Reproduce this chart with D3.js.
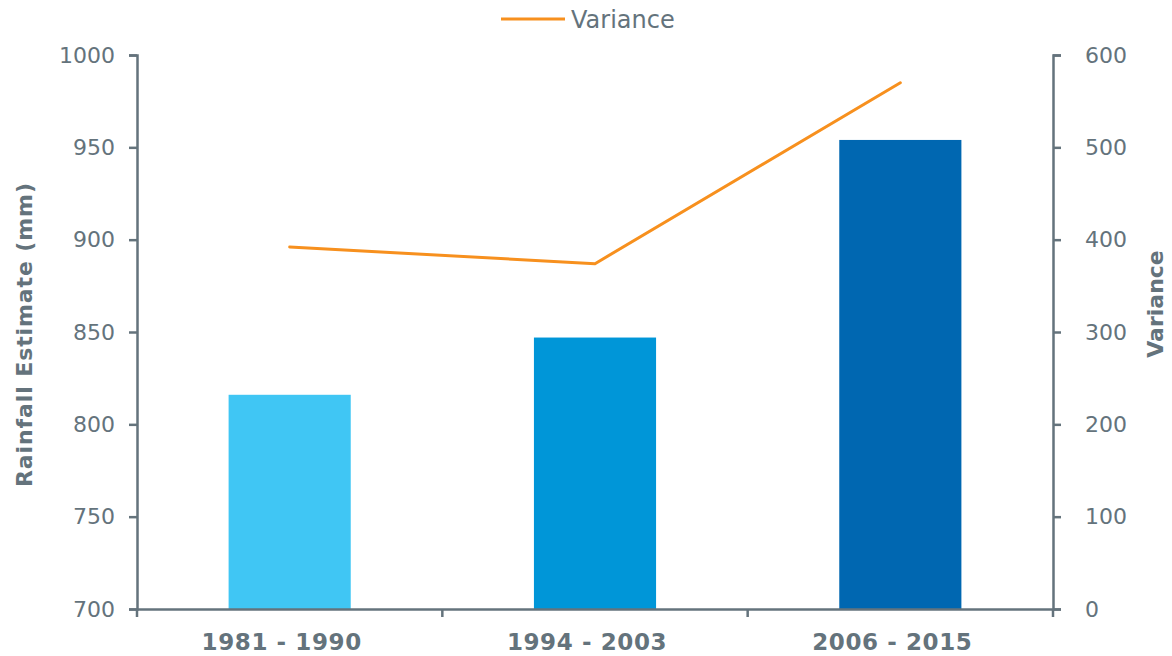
<!DOCTYPE html>
<html><head><meta charset="utf-8">
<script src="https://cdn.jsdelivr.net/npm/d3@7"></script>
<style>body{margin:0;background:#fff}svg{display:block}text{font-family:"DejaVu Sans",Verdana,sans-serif}</style>
</head><body><svg id="c" width="1172" height="656"></svg>
<script>
const categories = ["1981 - 1990", "1994 - 2003", "2006 - 2015"];
const rainfall = [816, 847, 954];
const variance = [392, 374, 570];
const leftTicks = [700, 750, 800, 850, 900, 950, 1000];
const rightTicks = [0, 100, 200, 300, 400, 500, 600];
const barColors = ["#40c6f4", "#0096d8", "#0067b1"];
const axisColor = "#64737c";
const lineColor = "#f7901e";

const svg = d3.select("#c");
const L = 137, R = 1053, T = 55, B = 609;
const x = d3.scaleBand().domain(categories).range([L, R]).paddingInner(0.6).paddingOuter(0.3);
const xb = d3.scaleBand().domain(categories).range([L, R]);
const yL = d3.scaleLinear().domain([700, 1000]).range([B, T]);
const yR = d3.scaleLinear().domain([0, 600]).range([B, T]);

// bars
svg.selectAll("rect.bar").data(rainfall).enter().append("rect")
  .attr("x", (d, i) => x(categories[i])).attr("width", x.bandwidth())
  .attr("y", d => yL(d)).attr("height", d => yL(700) - yL(d))
  .attr("fill", (d, i) => barColors[i]);

// line
const line = d3.line().x((d, i) => xb(categories[i]) + xb.bandwidth() / 2).y(d => yR(d));
svg.append("path").datum(variance).attr("d", line).attr("fill", "none")
  .attr("stroke", lineColor).attr("stroke-width", 3).attr("stroke-linejoin", "round").attr("stroke-linecap", "round");

function styleAxis(g) {
  g.selectAll("path,line").attr("stroke", axisColor).attr("stroke-width", 2.5);
  g.selectAll("text").attr("fill", axisColor).style("font-family", '"DejaVu Sans",Verdana,sans-serif');
}
// left axis
const gl = svg.append("g").attr("transform", `translate(${L},0)`)
  .call(d3.axisLeft(yL).tickValues(leftTicks).tickFormat(d3.format("d")).tickSize(8).tickSizeOuter(8).tickPadding(14));
styleAxis(gl); gl.selectAll("text").style("font-size", "22px");
// right axis
const gr = svg.append("g").attr("transform", `translate(${R},0)`)
  .call(d3.axisRight(yR).tickValues(rightTicks).tickFormat(d3.format("d")).tickSize(8).tickSizeOuter(8).tickPadding(24));
styleAxis(gr); gr.selectAll("text").style("font-size", "22px");
// bottom axis
const gb = svg.append("g").attr("transform", `translate(0,${B})`)
  .call(d3.axisBottom(xb).tickSize(0).tickSizeOuter(0).tickPadding(25));
styleAxis(gb);
gb.selectAll("text").style("font-size", "23px").style("font-weight", "bold").style("letter-spacing", "0.6px").attr("dx", -8);
const bounds = [L, ...categories.slice(1).map(c => xb(c)), R];
gb.selectAll("line.sep").data(bounds).enter().append("line")
  .attr("x1", d => d).attr("x2", d => d).attr("y1", 0).attr("y2", 8)
  .attr("stroke", axisColor).attr("stroke-width", 2.5);

// axis titles
svg.append("text").attr("transform", `translate(32,335) rotate(-90)`)
  .attr("text-anchor", "middle").attr("fill", axisColor).style("font-size", "22px").style("font-weight", "bold")
  .attr("textLength", 304).attr("lengthAdjust", "spacing")
  .text("Rainfall Estimate (mm)");
svg.append("text").attr("transform", `translate(1163,304) rotate(-90)`)
  .attr("text-anchor", "middle").attr("fill", axisColor).style("font-size", "22px").style("font-weight", "bold")
  .text("Variance");

// legend
const lg = svg.append("g");
lg.append("line").attr("x1", 501).attr("x2", 565).attr("y1", 19).attr("y2", 19)
  .attr("stroke", lineColor).attr("stroke-width", 3);
lg.append("text").attr("x", 571).attr("y", 28).attr("fill", axisColor).style("font-size", "24px").text("Variance");
</script></body></html>
